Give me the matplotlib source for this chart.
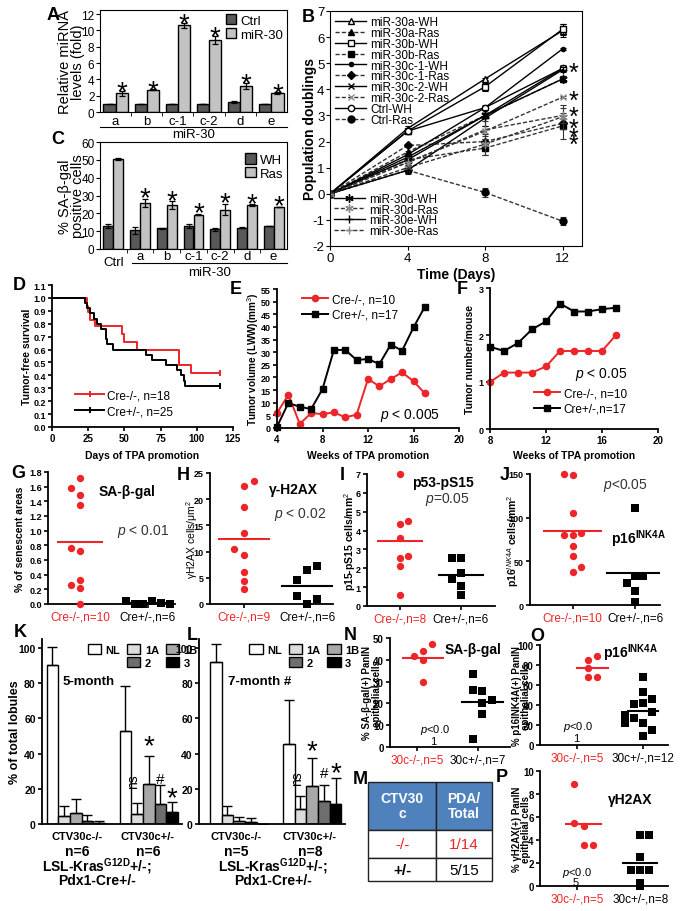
import matplotlib
matplotlib.use('Agg')
import matplotlib.pyplot as plt
import numpy as np
from matplotlib.patches import Patch
from matplotlib.lines import Line2D
from matplotlib.transforms import offset_copy

plt.rcParams['font.family'] = ['Liberation Sans', 'DejaVu Sans']
plt.rcParams['mathtext.fontset'] = 'custom'
plt.rcParams['mathtext.rm'] = 'Liberation Sans'
plt.rcParams['mathtext.it'] = 'Liberation Sans:italic'
plt.rcParams['mathtext.bf'] = 'Liberation Sans:bold'
plt.rcParams['axes.unicode_minus'] = False

W, H = 687, 912
RED = '#ee2528'

# ---------------- data ----------------
# A
mir_groups = ['a', 'b', 'c-1', 'c-2', 'd', 'e']
a_ctrl = [1.0, 1.0, 1.0, 1.0, 1.2, 1.0]
a_ctrl_err = [0.0, 0.0, 0.0, 0.0, 0.15, 0.0]
a_mir = [2.3, 2.75, 10.65, 8.85, 3.2, 2.3]
a_mir_err = [0.3, 0.05, 0.3, 0.5, 0.4, 0.15]

# C
c_groups = ['Ctrl'] + mir_groups
c_wh = [13.0, 10.5, 11.5, 13.0, 11.0, 12.0, 13.0]
c_wh_err = [1.0, 2.0, 0.4, 1.0, 0.8, 0.3, 0.0]
c_ras = [50.5, 26.0, 24.5, 19.2, 22.0, 24.6, 23.5]
c_ras_err = [0.6, 2.3, 2.3, 0.4, 3.2, 0.5, 0.0]

# B
b_days = [0, 4, 8, 12]
b_names = ['miR-30a-WH', 'miR-30a-Ras', 'miR-30b-WH', 'miR-30b-Ras',
           'miR-30c-1-WH', 'miR-30c-1-Ras', 'miR-30c-2-WH', 'miR-30c-2-Ras',
           'Ctrl-WH', 'Ctrl-Ras', 'miR-30d-WH', 'miR-30d-Ras',
           'miR-30e-WH', 'miR-30e-Ras']
b_values = [
    [0, 2.5, 4.4, 6.25],
    [0, 1.6, 3.0, 4.4],
    [0, 2.4, 4.1, 6.3],
    [0, 1.3, 1.75, 2.6],
    [0, 1.5, 3.3, 5.55],
    [0, 1.85, 2.0, 2.7],
    [0, 1.3, 3.0, 4.8],
    [0, 1.2, 2.4, 3.7],
    [0, 2.4, 3.3, 4.8],
    [0, 0.9, 0.05, -1.05],
    [0, 1.4, 3.0, 4.4],
    [0, 1.0, 1.9, 2.95],
    [0, 0.9, 2.9, 4.75],
    [0, 1.2, 2.45, 3.0],
]
b_errors = [
    [0, 0.08, 0.05, 0.25],
    [0, 0.05, 0.05, 0.1],
    [0, 0.1, 0.15, 0.2],
    [0, 0.1, 0.25, 0.5],
    [0, 0.05, 0.05, 0.05],
    [0, 0.05, 0.1, 0.2],
    [0, 0.05, 0.1, 0.1],
    [0, 0.1, 0.2, 0.05],
    [0, 0.1, 0.1, 0.1],
    [0, 0.15, 0.18, 0.15],
    [0, 0.1, 0.1, 0.1],
    [0, 0.1, 0.4, 0.45],
    [0, 0.1, 0.3, 0.1],
    [0, 0.2, 0.35, 0.3],
]
b_star_y = [4.9, 3.83, 3.23, 2.78, 2.43, 2.15]

# D (Kaplan-Meier)
d_red_t = [0, 24, 25, 26, 30, 48, 49.5, 59, 88, 96, 116]
d_red_s = [1.0, 0.94, 0.89, 0.83, 0.78, 0.72, 0.66, 0.60, 0.48, 0.42, 0.42]
d_blk_t = [0, 23, 24, 26, 29, 31, 34, 37, 38, 42, 65, 69, 79, 86, 89, 91, 92, 116]
d_blk_s = [1.0, 0.96, 0.92, 0.88, 0.84, 0.80, 0.76, 0.68, 0.64, 0.60, 0.56,
           0.52, 0.48, 0.44, 0.40, 0.36, 0.32, 0.32]

# E
e_weeks = list(range(4, 18))
e_red = [5.9, 13.2, 1.6, 5.9, 5.5, 6.2, 4.2, 5.3, 19.4, 16.5, 19.4, 22.0, 18.5, 13.7]
e_blk = [0.5, 9.9, 8.4, 7.5, 15.4, 30.9, 30.9, 26.9, 27.3, 25.3, 33.0, 30.6, 39.8, 48.0]

# F
f_weeks = list(range(8, 18))
f_red = [1.0, 1.2, 1.2, 1.2, 1.33, 1.66, 1.66, 1.66, 1.66, 2.0]
f_blk = [1.75, 1.66, 1.83, 2.12, 2.29, 2.67, 2.5, 2.5, 2.55, 2.58]

# G - J
g_red = [1.72, 1.58, 1.49, 1.35, 0.76, 0.72, 0.33, 0.26, 0.22, 0.0]
g_blk = [0.04, 0.0, 0.0, 0.04, 0.01, 0.0]
h_red = [23.5, 22.6, 18.6, 13.5, 10.5, 9.4, 6.2, 4.3, 2.9]
h_blk = [7.3, 6.4, 4.6, 1.6, 1.0, 0.0]
i_red = [7.0, 4.52, 4.34, 3.58, 2.66, 2.57, 2.13, 0.6]
i_blk = [2.52, 2.52, 1.77, 1.42, 1.06, 0.57]
j_red = [150, 149, 105, 83, 80.5, 80, 68, 55.7, 43.9, 37.4]
j_blk = [110.7, 33.6, 33.6, 25, 16.4, 3.8]

# K, L
stage_labels = ['NL', '1A', '1B', '2', '3']
k_minus = [90.2, 4.7, 6.2, 1.5, 0.6]
k_minus_err = [10.4, 5.7, 8.0, 3.6, 1.3]
k_plus = [52.9, 5.7, 22.7, 11.3, 6.6]
k_plus_err = [25.5, 6.0, 16.1, 11.0, 5.7]
l_minus = [92.0, 5.0, 1.5, 0.9, 0.0]
l_minus_err = [10.0, 5.5, 2.3, 2.5, 0.0]
l_plus = [45.4, 8.5, 21.7, 12.9, 11.3]
l_plus_err = [25.0, 7.5, 15.5, 9.0, 14.6]

# M
m_cols = ['CTV30\nc', 'PDA/\nTotal']
m_rows = [['-/-', '1/14'], ['+/-', '5/15']]

# N - P
n_red = [47.2, 44.2, 41.9, 39.9, 29.9]
n_blk = [33.4, 26.1, 25.5, 21.5, 20.0, 15.3, 3.5]
o_red = [89, 84.7, 77.3, 68, 68]
o_blk = [68, 53, 45.7, 42.3, 40.7, 33, 30, 27, 22.3, 22.3, 14.7, 9]
p_red = [8.84, 5.5, 5.2, 3.6, 3.6]
p_blk = [4.43, 4.43, 2.5, 1.36, 1.36, 1.36, 0.3, 0.0]

# ---------------- figure ----------------
fig = plt.figure(figsize=(W / 100, H / 100), dpi=100)


def box(x0, y0, x1, y1):
    return [x0 / W, 1 - y1 / H, (x1 - x0) / W, (y1 - y0) / H]


def letter(x, y, s):
    fig.text(x / W, 1 - y / H, s, fontsize=13, fontweight='bold', ha='center', va='center')


def ftext(x, y, s, **kw):
    fig.text(x / W, 1 - y / H, s, ha='center', va='center', **kw)


def star(ax, x, y, size=20, tr=None):
    base = ax.transData if tr is None else tr
    t = offset_copy(base, fig=fig, y=-0.57 * size, units='points')
    ax.text(x, y, '*', fontsize=size, ha='center', va='baseline', transform=t)


def gp_axes(rect, xlim, ylim, yticks, yfmt='{:g}', fs=6.5):
    ax = fig.add_axes(box(*rect))
    for s in ['top', 'right']:
        ax.spines[s].set_visible(False)
    for s in ['left', 'bottom']:
        ax.spines[s].set_linewidth(1.3)
    ax.set_xlim(xlim)
    ax.set_ylim(ylim)
    ax.set_yticks(yticks)
    ax.set_yticklabels([yfmt.format(v) for v in yticks], fontsize=fs, fontweight='bold')
    ax.tick_params(width=1.2, length=3, pad=1.5)
    return ax


# ---------- A ----------
ax = fig.add_axes(box(100, 11, 287, 113))
x = np.arange(len(mir_groups))
bw = 0.39
ek = dict(lw=0.9, capsize=2.2, capthick=0.9)
ax.bar(x - bw / 2, a_ctrl, bw, yerr=a_ctrl_err, color='#595959', edgecolor='black', lw=1,
       error_kw=ek, label='Ctrl')
ax.bar(x + bw / 2, a_mir, bw, yerr=a_mir_err, color='#c3c3c3', edgecolor='black', lw=1,
       error_kw=ek, label='miR-30')
for xi, v, e in zip(x, a_mir, a_mir_err):
    star(ax, xi + bw / 2, v + e + 0.86)
ax.set_xlim(-0.5, 5.5)
ax.set_ylim(0, 12.5)
ax.set_yticks(range(0, 13, 2))
ax.set_xticks(x)
ax.set_xticklabels(mir_groups)
ax.set_xticks(x[:-1] + 0.5, minor=True)
ax.tick_params(axis='x', which='major', length=0, labelsize=9.5, pad=2)
ax.tick_params(axis='x', which='minor', length=3, direction='out')
ax.tick_params(axis='y', labelsize=8.5, length=3, direction='out', pad=1)
ax.set_ylabel('Relative miRNA\nlevels (fold)', fontsize=10.5, linespacing=0.9, va='center')
ax.yaxis.set_label_coords(-0.15, 0.5)
ax.plot([0, 1], [-0.15, -0.15], transform=ax.transAxes, clip_on=False, color='black', lw=0.8)
ax.text(0.5, -0.22, 'miR-30', transform=ax.transAxes, ha='center', va='center', fontsize=9.5)
ax.legend(loc='upper right', frameon=False, fontsize=9.5, handlelength=0.8, handleheight=0.8,
          handletextpad=0.3, labelspacing=0.1, borderaxespad=0.2, borderpad=0.1)
letter(53, 15, 'A')

# ---------- C ----------
ax = fig.add_axes(box(100, 143, 287, 250))
x = np.arange(len(c_groups))
bw = 0.37
ax.bar(x - bw / 2, c_wh, bw, yerr=c_wh_err, color='#595959', edgecolor='black', lw=1,
       error_kw=ek, label='WH')
ax.bar(x + bw / 2, c_ras, bw, yerr=c_ras_err, color='#c3c3c3', edgecolor='black', lw=1,
       error_kw=ek, label='Ras')
for xi, v, e in zip(x[1:], c_ras[1:], c_ras_err[1:]):
    star(ax, xi + bw / 2, v + e + 5.2)
ax.set_xlim(-0.5, 6.5)
ax.set_ylim(0, 60)
ax.set_yticks(range(0, 61, 10))
ax.set_xticks(x)
ax.set_xticklabels([''] + c_groups[1:])
ax.set_xticks(x[:-1] + 0.5, minor=True)
ax.tick_params(axis='x', which='major', length=0, labelsize=9.5, pad=1)
ax.tick_params(axis='x', which='minor', length=3, direction='out')
ax.tick_params(axis='y', labelsize=8.5, length=3, direction='out', pad=1)
ax.text(0, -12.5 / 107, 'Ctrl', transform=ax.get_xaxis_transform(), ha='center', va='center',
        fontsize=9.5)
ax.set_ylabel('% SA-\u03b2-gal\npositive cells', fontsize=10.5, linespacing=0.9, va='center')
ax.yaxis.set_label_coords(-0.15, 0.5)
ax.plot([0.171, 1], [-0.131, -0.131], transform=ax.transAxes, clip_on=False, color='black', lw=0.8)
ax.text(0.585, -0.215, 'miR-30', transform=ax.transAxes, ha='center', va='center', fontsize=9.5)
ax.legend(loc='upper right', bbox_to_anchor=(1.0, 0.93), frameon=False, fontsize=9.5,
          handlelength=0.8, handleheight=0.8, handletextpad=0.3, labelspacing=0.1,
          borderaxespad=0.2, borderpad=0.1)
letter(58, 140, 'C')

# ---------- B ----------
ax = fig.add_axes(box(330, 12, 582, 247))
b_style = [
    ('^', 'white', 'black', '-', 4.5),
    ('^', 'black', 'black', '--', 4.5),
    ('s', 'white', 'black', '-', 4.5),
    ('s', 'black', 'black', '--', 4.5),
    ('o', 'black', 'black', '-', 3),
    ('D', 'black', 'black', '--', 4),
    ('x', 'black', 'black', '-', 5),
    ('x', '#8a8a8a', '#8a8a8a', '--', 5),
    ('o', 'white', 'black', '-', 4.5),
    ('o', 'black', 'black', '--', 5),
    ((6, 2, 0), 'black', 'black', '-', 6),
    ((6, 2, 0), '#8a8a8a', '#8a8a8a', '--', 6),
    ('+', 'black', 'black', '-', 6),
    ('+', '#8a8a8a', '#8a8a8a', '--', 6),
]
handles = []
for name, vals, errs, (mk, mfc, mec, ls, ms) in zip(b_names, b_values, b_errors, b_style):
    lc = 'black' if ls == '-' else '#333333'
    ax.errorbar(b_days, vals, yerr=errs, fmt='none', ecolor=lc, elinewidth=0.8, capsize=2,
                capthick=0.8)
    ln, = ax.plot(b_days, vals, ls=ls, color=lc, lw=1.0, marker=mk, mfc=mfc, mec=mec, ms=ms,
                  mew=1.0, label=name)
    if ls == '--':
        ln.set_dashes((3, 1.5))
    handles.append(ln)
for yv in b_star_y:
    star(ax, 12.55, yv, size=18)
ax.set_xlim(0, 13)
ax.set_ylim(-2, 7)
ax.set_xticks([0, 4, 8, 12])
ax.set_yticks(range(-2, 8))
ax.tick_params(labelsize=9.5, length=3, direction='out', pad=1)
ax.set_xlabel('Time (Days)', fontsize=10, fontweight='bold')
ax.xaxis.set_label_coords(0.5, -0.089)
ax.set_ylabel('Population doublings', fontsize=10, fontweight='bold', va='center')
ax.yaxis.set_label_coords(-0.079, 0.5)
leg1 = ax.legend(handles[:10], b_names[:10], loc='upper left', frameon=False, fontsize=8.5,
                 handlelength=2.6, handletextpad=0.35, labelspacing=-0.1, borderaxespad=0.15,
                 borderpad=0.3)
ax.add_artist(leg1)
ax.legend(handles[10:], b_names[10:], loc='lower left', bbox_to_anchor=(0, 0.02), frameon=False,
          fontsize=8.5, handlelength=2.6, handletextpad=0.35, labelspacing=-0.1, borderaxespad=0.15,
          borderpad=0.2)
letter(308, 17, 'B')

# ---------- D ----------
ax = gp_axes((52, 286, 233, 428), (0, 125), (0, 1.1), np.round(np.arange(0, 1.11, 0.1), 1), '{:.1f}')
ax.step(d_red_t, d_red_s, where='post', color=RED, lw=1.4)
ax.step(d_blk_t, d_blk_s, where='post', color='black', lw=1.4)
ax.plot(d_red_t[-1], d_red_s[-1], marker='|', color=RED, ms=5, mew=1.4)
ax.plot(d_blk_t[-1], d_blk_s[-1], marker='|', color='black', ms=5, mew=1.4)
ax.set_xticks(range(0, 126, 25))
ax.set_xticklabels([str(v) for v in range(0, 126, 25)], fontsize=7, fontweight='bold')
ax.set_ylabel('Tumor-free survival', fontsize=7.5, fontweight='bold', va='center')
ax.yaxis.set_label_coords(-0.138, 0.5)
ax.set_xlabel('Days of TPA promotion', fontsize=7.5, fontweight='bold', va='center')
ax.xaxis.set_label_coords(0.5, -0.197)
hd = [Line2D([], [], color=RED, lw=1.4, marker='|', ms=5, mew=1.4),
      Line2D([], [], color='black', lw=1.4, marker='|', ms=5, mew=1.4)]
ax.legend(hd, ['Cre-/-, n=18', 'Cre+/-, n=25'], loc='lower left', bbox_to_anchor=(0.09, 0.02),
          frameon=False, fontsize=8.5, handlelength=2.4, handletextpad=0.3, labelspacing=0.3,
          borderpad=0.1)
letter(19, 286, 'D')

# ---------- E ----------
ax = gp_axes((277, 290, 459, 429), (4, 20), (0, 55), list(range(0, 56, 5)))
ax.plot(e_weeks, e_red, color=RED, marker='o', ms=4.5, lw=1.4, label='Cre-/-, n=10', clip_on=False)
ax.plot(e_weeks, e_blk, color='black', marker='s', ms=4.5, lw=1.4, label='Cre+/-, n=17', clip_on=False)
ax.set_xticks(range(4, 21, 4))
ax.set_xticklabels([str(v) for v in range(4, 21, 4)], fontsize=7, fontweight='bold')
ax.set_ylabel('Tumor volume (LWW)(mm$^3$)', fontsize=7.2, fontweight='bold', va='center')
ax.yaxis.set_label_coords(-0.132, 0.5)
ax.set_xlabel('Weeks of TPA promotion', fontsize=7.5, fontweight='bold', va='center')
ax.xaxis.set_label_coords(0.5, -0.194)
ax.legend(loc='upper left', bbox_to_anchor=(0.1, 1.02), frameon=False, fontsize=8.5,
          handlelength=2.2, handletextpad=0.3, labelspacing=0.3, borderpad=0.1)
ftext(410, 415, '$p$ < 0.005', fontsize=10)
letter(236, 290, 'E')

# ---------- F ----------
ax = gp_axes((490, 289, 658, 430), (8, 20), (0, 3), [0, 1, 2, 3])
ax.plot(f_weeks, f_blk, color='black', marker='s', ms=4.5, lw=1.4, clip_on=False)
ax.plot(f_weeks, f_red, color=RED, marker='o', ms=4.5, lw=1.4, clip_on=False)
ax.set_xticks(range(8, 21, 4))
ax.set_xticklabels([str(v) for v in range(8, 21, 4)], fontsize=7, fontweight='bold')
ax.set_ylabel('Tumor number/mouse', fontsize=7.5, fontweight='bold', va='center')
ax.yaxis.set_label_coords(-0.119, 0.5)
ax.set_xlabel('Weeks of TPA promotion', fontsize=7.5, fontweight='bold', va='center')
ax.xaxis.set_label_coords(0.5, -0.184)
hf = [Line2D([], [], color=RED, marker='o', ms=4.5, lw=1.4),
      Line2D([], [], color='black', marker='s', ms=4.5, lw=1.4)]
ax.legend(hf, ['Cre-/-, n=10', 'Cre+/-,n=17'], loc='lower left', bbox_to_anchor=(0.22, 0.05),
          frameon=False, fontsize=8.5, handlelength=2.2, handletextpad=0.3, labelspacing=0.3,
          borderpad=0.1)
ftext(601, 375, '$p$ < 0.05', fontsize=10)
letter(462, 290, 'F')


# ---------- dot plots ----------
def dot_panel(rect, xlim, ylim, yticks, yfmt, red, red_dx, blk, blk_dx, xlabels, step,
              half=0.33, fs=6.5, xfs=8.5, red_shift=0.0, blk_shift=0.0):
    ax = gp_axes(rect, xlim, ylim, yticks, yfmt, fs)
    ax.scatter(red_shift + np.array(red_dx) * step, red, s=28, color=RED, lw=0, zorder=3,
               clip_on=False)
    ax.scatter(1 + blk_shift + np.array(blk_dx) * step, blk, s=26, color='black', marker='s',
               lw=0, zorder=3, clip_on=False)
    ax.plot([red_shift - half, red_shift + half], [np.mean(red)] * 2, color=RED, lw=1.5, zorder=2)
    ax.plot([1 + blk_shift - half, 1 + blk_shift + half], [np.mean(blk)] * 2, color='black',
            lw=1.5, zorder=2)
    ax.set_xticks([0, 1])
    ax.set_xticklabels(xlabels, fontsize=xfs)
    ax.get_xticklabels()[0].set_color(RED)
    ax.tick_params(axis='x', pad=2)
    return ax


g_dx = ([0, -1, 0, 0, -1, 0, 0, -1, 0, 0], [-2.5, -1.5, -0.5, 0.5, 1.5, 2.5])
ax = dot_panel((48, 473, 175, 605), (-0.47, 1.40), (0, 1.8), np.round(np.arange(0, 1.81, 0.2), 1),
               '{:.1f}', g_red, g_dx[0], g_blk, g_dx[1], ['Cre-/-,n=10', 'Cre+/-,n=6'], 0.13)
ax.set_ylabel('% of senescent areas', fontsize=7.5, fontweight='bold', va='center')
ax.yaxis.set_label_coords(-0.22, 0.5)
ftext(127, 492, 'SA-\u03b2-gal', fontsize=10, fontweight='bold')
ftext(143, 532, '$p$ < 0.01', fontsize=10, color='#333333')
letter(18, 474, 'G')

h_dx = ([1, 0, 0, 0, -1, 0, 0, 0, 0], [1, 0, -1, -1, 1, 0])
ax = dot_panel((210, 474, 333, 605), (-0.54, 1.41), (0, 25), [0, 5, 10, 15, 20, 25], '{:g}',
               h_red, h_dx[0], h_blk, h_dx[1], ['Cre-/-,n=9', 'Cre+/-,n=6'], 0.16, half=0.4)
ax.set_ylabel('\u03b3H2AX cells/\u03bcm$^2$', fontsize=7.5, va='center')
ax.yaxis.set_label_coords(-0.146, 0.5)
ftext(293, 490, '\u03b3-H2AX', fontsize=10, fontweight='bold')
ftext(300, 515, '$p$ < 0.02', fontsize=10, color='#333333')
letter(183, 475, 'H')

i_dx = ([0, 1, 0, 0, 1, 0, 0, 0], [-1, 0, 0, -1, 0, 0])
ax = dot_panel((367, 475, 495, 607), (-0.54, 1.56), (0, 7), list(range(0, 8)), '{:g}',
               i_red, i_dx[0], i_blk, i_dx[1], ['Cre-/-,n=8', 'Cre+/-,n=6'], 0.14, half=0.36)
ax.set_ylabel('p15-pS15 cells/mm$^2$', fontsize=7.5, fontweight='bold', va='center')
ax.yaxis.set_label_coords(-0.133, 0.5)
ftext(443, 483, 'p53-pS15', fontsize=10, fontweight='bold')
ftext(447, 500, '$p$=0.05', fontsize=10, color='#333333')
letter(342, 475, 'I')

j_dx = ([-1, 0, 0, 1, -1, 0, 0, 0, 1, 0], [0, 0, 1, -1, 0, 0])
ax = dot_panel((530, 475, 660, 606), (-0.68, 1.40), (0, 150), [0, 50, 100, 150], '{:g}',
               j_red, j_dx[0], j_blk, j_dx[1], ['Cre-/-,n=10', 'Cre+/-,n=6'], 0.135, half=0.45)
ax.set_ylabel('p16$^{INK4A}$ cells/mm$^2$', fontsize=7.5, fontweight='bold', va='center')
ax.yaxis.set_label_coords(-0.131, 0.5)
ftext(625, 486, '$p$<0.05', fontsize=10, color='#333333')
ftext(638, 539, 'p16$^{\\mathbf{INK4A}}$', fontsize=10, fontweight='bold')
letter(505, 476, 'J')


# ---------- K, L ----------
stage_colors = ['white', '#dcdcdc', '#a8a8a8', '#6e6e6e', 'black']


def stage_panel(rect, xlim, minus, minus_err, plus, plus_err):
    ax = gp_axes(rect, xlim, (0, 105), list(range(0, 101, 20)), '{:g}', fs=7.5)
    bw = 0.16
    for i in range(5):
        vals = [minus[i], plus[i]]
        errs = [minus_err[i], plus_err[i]]
        ax.bar(np.array([0, 1]) + (i - 2) * bw, vals, bw, color=stage_colors[i], edgecolor='black',
               lw=1.0, yerr=[[0, 0], errs], error_kw=dict(lw=1.0, capsize=3.5, capthick=1.0),
               label=stage_labels[i])
    ax.set_xticks([])
    hs = [Patch(fc=c, ec='black', lw=1) for c in stage_colors]
    blank = Patch(fc='none', ec='none')
    ax.legend([hs[0], blank, hs[1], hs[3], hs[2], hs[4]], ['NL', '', '1A', '2', '1B', '3'],
              ncol=3, loc='upper left', frameon=False, prop=dict(size=8, weight='bold'),
              handlelength=1.2, handleheight=1.0, handletextpad=0.4, columnspacing=0.6,
              labelspacing=0.2, borderpad=0.1)
    return ax


ax = stage_panel((42, 640, 182, 825), (-0.464, 1.457), k_minus, k_minus_err, k_plus, k_plus_err)
ax.get_legend().set_bbox_to_anchor((0.28, 1.01))
ax.set_ylabel('% of total lobules', fontsize=9, fontweight='bold', va='center')
ax.yaxis.set_label_coords(-0.19, 0.5)
ax.text(1 - 0.16 - 0.05, 24.6, 'ns', rotation=90, fontsize=10, ha='center', va='center')
star(ax, 1.0, 49)
ax.text(1 + 0.16, 25.5, '#', fontsize=11, ha='center', va='center')
star(ax, 1 + 0.32, 19.5)
ax.text(0.15, 0.773, '5-month', transform=ax.transAxes, fontsize=9.5, fontweight='bold',
        ha='left', va='center')
for gx, lab, n in [(77, 'CTV30c-/-', 'n=6'), (148, 'CTV30c+/-', 'n=6')]:
    ftext(gx, 837, lab, fontsize=8, fontweight='bold')
    ftext(gx, 852, n, fontsize=10, fontweight='bold')
ftext(97, 867, 'LSL-Kras$^{\\mathbf{G12D}}$+/-;', fontsize=10, fontweight='bold')
ftext(97, 881, 'Pdx1-Cre+/-', fontsize=10, fontweight='bold')
letter(20, 633, 'K')

ax = stage_panel((199, 640, 345, 825), (-0.55, 1.45), l_minus, l_minus_err, l_plus, l_plus_err)
ax.get_legend().set_bbox_to_anchor((0.3, 1.01))
ax.text(1 - 0.16 - 0.05, 26.5, 'ns', rotation=90, fontsize=10, ha='center', va='center')
star(ax, 1.0, 46.3)
ax.text(1 + 0.16, 29.0, '#', fontsize=11, ha='center', va='center')
star(ax, 1 + 0.32, 34)
ax.text(0.2, 0.773, '7-month #', transform=ax.transAxes, fontsize=9.5, fontweight='bold',
        ha='left', va='center')
for gx, lab, n in [(236, 'CTV30c-/-', 'n=5'), (310, 'CTV30c+/-', 'n=8')]:
    ftext(gx, 837, lab, fontsize=8, fontweight='bold')
    ftext(gx, 852, n, fontsize=10, fontweight='bold')
ftext(273, 867, 'LSL-Kras$^{\\mathbf{G12D}}$+/-;', fontsize=10, fontweight='bold')
ftext(273, 881, 'Pdx1-Cre+/-', fontsize=10, fontweight='bold')
letter(192, 635, 'L')

# ---------- N, O, P ----------
n_dx = ([1, 0, -1, 0, 0], [-1, -1, 0, 1, 0, 0, -1])
ax = dot_panel((390, 639, 510, 748), (-0.44, 1.52), (0, 50), list(range(0, 51, 10)), '{:g}',
               n_red, n_dx[0], n_blk, n_dx[1], ['30c-/-,n=5', '30c+/-,n=7'], 0.148, fs=7,
               xfs=8.5, red_shift=0.1, blk_shift=0.07)
ax.set_ylabel('% SA-\u03b2-gal(+) PanIN\nepithelial cells', fontsize=7, fontweight='bold',
              va='center', linespacing=0.95)
ax.yaxis.set_label_coords(-0.15, 0.5)
ftext(473, 650, 'SA-\u03b2-gal', fontsize=10, fontweight='bold')
ftext(435, 730, '$p$<0.0', fontsize=8)
ftext(433, 742, '1', fontsize=8)
letter(350, 635, 'N')

o_dx = ([0.5, -0.5, -0.5, -0.5, 0.5], [0, 0, 1, 0, -1, 1, -2, -1, -2, 0, 1, 0])
ax = dot_panel((540, 646, 668, 746), (-0.56, 1.38), (0, 100), list(range(0, 101, 20)), '{:g}',
               o_red, o_dx[0], o_blk, o_dx[1], ['30c-/-,n=5', '30c+/-,n=12'], 0.136, half=0.23,
               fs=7, xfs=8.5, red_shift=0.235)
ax.set_ylabel('% p16INK4A(+) PanIN\nepithelial cells', fontsize=7, fontweight='bold',
              va='center', linespacing=0.95)
ax.yaxis.set_label_coords(-0.145, 0.5)
ftext(630, 653, 'p16$^{\\mathbf{INK4A}}$', fontsize=10, fontweight='bold')
ftext(578, 727, '$p$<0.0', fontsize=8)
ftext(576, 739, '1', fontsize=8)
letter(537, 637, 'O')

p_dx = ([-1, -1, 0, 0, 1], [0, 1, 0, -1, 0, 1, 0, 0])
ax = dot_panel((540, 772, 668, 887), (-0.59, 1.44), (0, 10), list(range(0, 11, 2)), '{:g}',
               p_red, p_dx[0], p_blk, p_dx[1], ['30c-/-,n=5', '30c+/-,n=8'], 0.143, half=0.27,
               fs=7, xfs=8.5, red_shift=0.1)
ax.set_ylabel('% \u03b3H2AX(+) PanIN\nepithelial cells', fontsize=7, fontweight='bold',
              va='center', linespacing=0.95)
ax.yaxis.set_label_coords(-0.145, 0.5)
ftext(630, 800, '\u03b3H2AX', fontsize=10, fontweight='bold')
ftext(577, 873, '$p$<0.0', fontsize=8)
ftext(576, 883, '5', fontsize=8)
letter(502, 778, 'P')

# ---------- M (table) ----------
ax = fig.add_axes(box(368, 783, 492, 882))
ax.axis('off')
tbl = ax.table(cellText=m_rows, colLabels=m_cols, bbox=[0, 0, 1, 1], cellLoc='center')
tbl.auto_set_font_size(False)
heights = [0.48, 0.29, 0.23]
widths = [0.55, 0.45]
for (r, c), cell in tbl.get_celld().items():
    cell.set_height(heights[r])
    cell.set_width(widths[c])
    cell.set_edgecolor('#222222')
    cell.set_linewidth(1.0)
    txt = cell.get_text()
    if r == 0:
        cell.set_facecolor('#4f81bd')
        txt.set_color('white')
        txt.set_fontweight('bold')
        txt.set_fontsize(10)
        txt.set_linespacing(1.1)
    else:
        txt.set_fontsize(11)
        if r == 1:
            txt.set_color(RED)
        if c == 0 and r == 2:
            txt.set_fontweight('bold')
letter(360, 780, 'M')

fig.savefig('out.png', dpi=100, facecolor='white')
